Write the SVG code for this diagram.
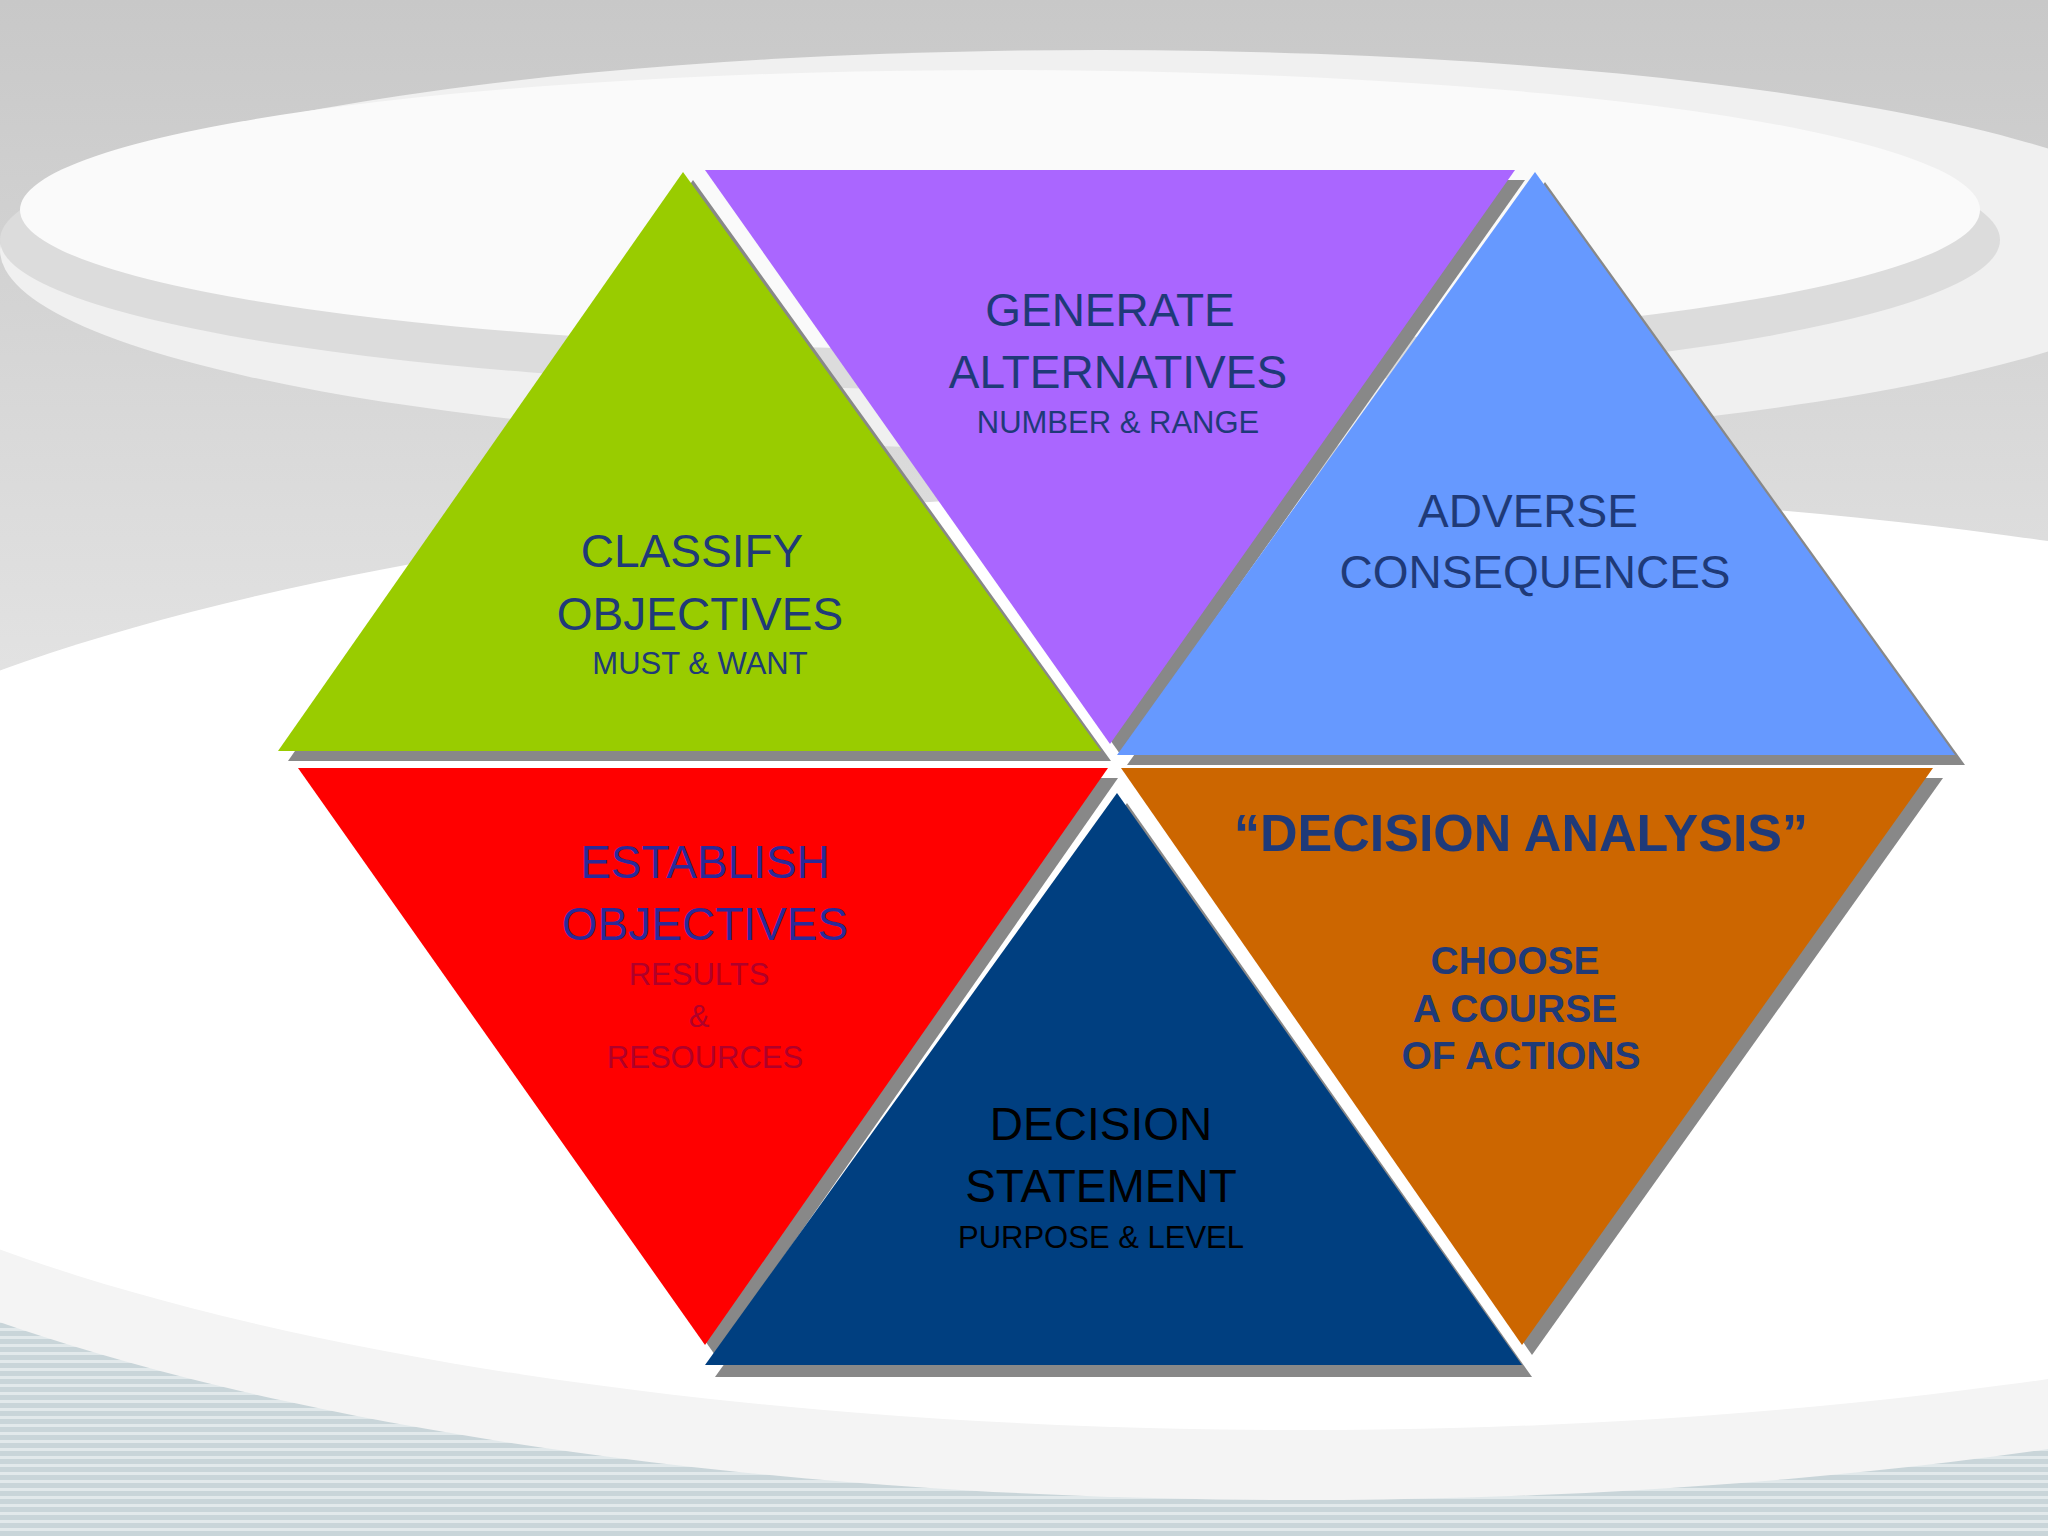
<svg xmlns="http://www.w3.org/2000/svg" width="2048" height="1536" viewBox="0 0 2048 1536">
<defs>
<linearGradient id="bg" x1="0" y1="0" x2="0" y2="1">
<stop offset="0" stop-color="#c8c8c8"/><stop offset="0.5" stop-color="#e6e6e6"/><stop offset="1" stop-color="#d6dde0"/>
</linearGradient>
<pattern id="stripes" width="10" height="8" patternUnits="userSpaceOnUse">
<rect width="10" height="8" fill="#c9d5d9"/><rect width="10" height="3" fill="#e2e9eb"/>
</pattern>
<style>
text{font-family:"Liberation Sans",Arial,sans-serif;text-anchor:middle;dominant-baseline:central}
.big{font-size:46px;fill:#1f3a78}
.sm{font-size:31px;fill:#1f3a78}
.sh{fill:#888}
</style>
</defs>
<rect width="2048" height="1536" fill="url(#bg)"/>
<rect y="1060" width="2048" height="476" fill="url(#stripes)"/>
<ellipse cx="1300" cy="1000" rx="1700" ry="500" fill="#f4f4f4"/>
<ellipse cx="1300" cy="960" rx="1650" ry="470" fill="#ffffff"/>
<ellipse cx="1100" cy="250" rx="1100" ry="200" fill="#f0f0f0"/>
<ellipse cx="1000" cy="240" rx="1000" ry="150" fill="#dcdcdc"/>
<ellipse cx="1000" cy="210" rx="980" ry="140" fill="#fafafa"/>
<g id="shadows">
<polygon class="sh" points="693,180 288,761 1111,761"/>
<polygon class="sh" points="715,180 1525,180 1120,754"/>
<polygon class="sh" points="1545,182 1127,765 1965,765"/>
<polygon class="sh" points="308,778 1118,778 715,1355"/>
<polygon class="sh" points="1127,803 715,1377 1532,1377"/>
<polygon class="sh" points="1131,778 1943,778 1532,1355"/>
</g>
<g id="green"><polygon points="683,172 278,751 1101,751" fill="#99cc00"/>
<text class="big" x="692" y="551">CLASSIFY</text><text class="big" x="700" y="614">OBJECTIVES</text><text class="sm" x="700" y="663">MUST &amp; WANT</text></g>
<g id="purple"><polygon points="705,170 1515,170 1110,744" fill="#aa66ff"/>
<text class="big" x="1110" y="310">GENERATE</text><text class="big" x="1118" y="372">ALTERNATIVES</text><text class="sm" x="1118" y="422">NUMBER &amp; RANGE</text></g>
<g id="blue"><polygon points="1535,172 1117,755 1955,755" fill="#6699ff"/>
<text class="big" x="1528" y="511">ADVERSE</text><text class="big" x="1535" y="572">CONSEQUENCES</text></g>
<g id="red"><polygon points="298,768 1108,768 705,1345" fill="#ff0000"/>
<text class="big" x="705" y="862" style="fill:#2a2a99">ESTABLISH</text><text class="big" x="705" y="924" style="fill:#2a2a99">OBJECTIVES</text>
<text class="sm" x="699" y="974" style="fill:#b0002a">RESULTS</text><text class="sm" x="699" y="1016" style="fill:#b0002a">&amp;</text><text class="sm" x="705" y="1057" style="fill:#b0002a">RESOURCES</text></g>
<g id="darkblue"><polygon points="1117,793 705,1365 1522,1365" fill="#003f80"/>
<text class="big" x="1101" y="1124" style="fill:#000">DECISION</text><text class="big" x="1101" y="1186" style="fill:#000">STATEMENT</text><text class="sm" x="1101" y="1237" style="fill:#000">PURPOSE &amp; LEVEL</text></g>
<g id="orange"><polygon points="1121,768 1933,768 1522,1345" fill="#cc6600"/>
<text x="1521" y="833" style="font-size:52px;font-weight:bold;fill:#1f3a78">“DECISION ANALYSIS”</text>
<text x="1515" y="960" style="font-size:39px;font-weight:bold;fill:#1f3a78">CHOOSE</text>
<text x="1515" y="1008" style="font-size:39px;font-weight:bold;fill:#1f3a78">A COURSE</text>
<text x="1521" y="1055" style="font-size:39px;font-weight:bold;fill:#1f3a78">OF ACTIONS</text></g>
</svg>
